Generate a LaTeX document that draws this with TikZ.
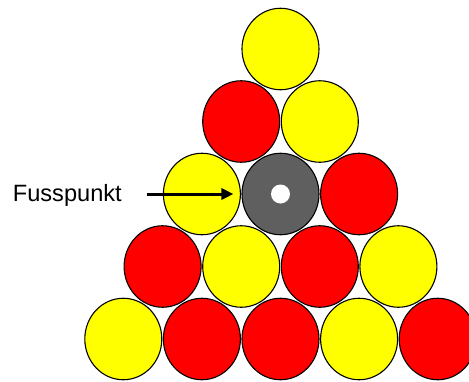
\documentclass[tikz,border=0pt]{standalone}
\usepackage{fontspec}
\setmainfont{Liberation Sans}
\usetikzlibrary{shapes.geometric,arrows.meta}
\definecolor{ballyellow}{HTML}{FFFF00}
\definecolor{ballred}{HTML}{FF0000}
\definecolor{ballgray}{HTML}{5F5F5F}
\tikzset{
  ball/.style={ellipse, draw=black, line width=1.1pt, minimum width=77pt, minimum height=81.5pt, inner sep=0pt},
  yb/.style={ball, fill=ballyellow},
  rb/.style={ball, fill=ballred},
  gb/.style={ball, fill=ballgray},
  hole/.style={circle, fill=white, minimum size=19pt, inner sep=0pt},
  pointer/.style={-{Triangle[length=12pt,width=11pt]}, line width=3pt},
  lbl/.style={anchor=base west, inner sep=0pt, font=\fontsize{23.6pt}{28pt}\selectfont}
}
\begin{document}
\begin{tikzpicture}[x=1pt,y=-1pt]
\useasboundingbox (0,0) rectangle (469,381);
% row 1
\node[yb] (b11) at (280.5,49) {};
% row 2
\node[rb] (b21) at (241.2,121.5) {};
\node[yb] (b22) at (319.8,121.5) {};
% row 3
\node[yb] (b31) at (201.9,194) {};
\node[gb] (b32) at (280.5,194) {};
\node[rb] (b33) at (359.1,194) {};
% row 4
\node[rb] (b41) at (162.6,266.5) {};
\node[yb] (b42) at (241.2,266.5) {};
\node[rb] (b43) at (319.8,266.5) {};
\node[yb] (b44) at (398.4,266.5) {};
% row 5
\node[yb] (b51) at (123.3,339) {};
\node[rb] (b52) at (201.9,339) {};
\node[rb] (b53) at (280.5,339) {};
\node[yb] (b54) at (359.1,339) {};
\node[rb] (b55) at (437.7,339) {};
% hole in gray ball
\node[hole] (hole) at (b32.center) {};
% label and arrow
\node[lbl] (label) at (12.7,201.7) {Fusspunkt};
\coordinate (astart) at (146.7,194);
\draw[pointer, shorten >=8pt] (astart) -- (b32.west);
\end{tikzpicture}
\end{document}
